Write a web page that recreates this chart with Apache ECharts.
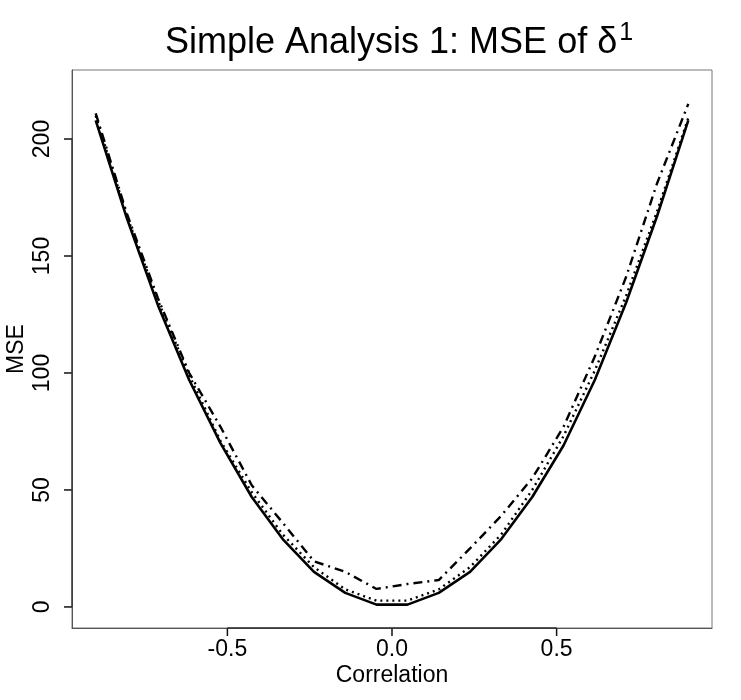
<!DOCTYPE html>
<html>
<head>
<meta charset="utf-8">
<script src="https://cdn.jsdelivr.net/npm/echarts@6/dist/echarts.min.js"></script>
<style>
html,body{margin:0;padding:0;background:#fff;}
#chart{width:741px;height:700px;}
</style>
</head>
<body>
<div id="chart"></div>
<script>
// Correlation grid (x values)
const correlation = [-0.900, -0.805, -0.711, -0.616, -0.521, -0.426, -0.332, -0.237, -0.142, -0.047,
                      0.047,  0.142,  0.237,  0.332,  0.426,  0.521,  0.616,  0.711,  0.805,  0.900];
// MSE series
const mseSolid   = [208, 166, 129, 97, 70, 47, 29, 15, 6, 1.0, 1.0, 6, 15, 29, 47, 69, 97, 130, 167, 208];
const mseDotted  = [210, 167, 131, 99, 71, 49, 31, 17, 7.5, 2.7, 2.7, 7.5, 17, 31, 50, 73, 101, 133, 169, 209];
const mseDashDot = [211, 168, 132, 100, 77, 52, 36, 19.5, 15, 7.7, 9.8, 11.5, 25, 39, 55, 77, 107, 141, 181, 215];
// Tick labels
const xTicks = [-0.5, 0, 0.5];
const xTickLabels = ['-0.5', '0.0', '0.5'];
const yTicks = [0, 50, 100, 150, 200];

const pairs = arr => correlation.map((x, i) => [x, arr[i]]);
const FONT = 'Liberation Sans, Arial, Helvetica, sans-serif';
const TICK_LEN = 8;
const X_MIN = -0.972, X_MAX = 0.972, Y_MIN = -9, Y_MAX = 229.5;

const chart = echarts.init(document.getElementById('chart'), null, {renderer: 'canvas'});
chart.setOption({
  animation: false,
  backgroundColor: '#fff',
  title: {
    text: '{m|Simple Analysis 1: MSE of δ}{s|1}',
    left: 160,
    top: 16,
    textStyle: {
      fontWeight: 'normal',
      rich: {
        m: {fontSize: 36, fontFamily: FONT, fontWeight: 'normal', color: '#000', lineHeight: 44},
        s: {fontSize: 25, fontFamily: FONT, fontWeight: 'normal', color: '#000', verticalAlign: 'top', lineHeight: 26, padding: [0, 0, 0, 2]}
      }
    }
  },
  grid: {
    left: 72, right: 29, top: 70, bottom: 72,
    outerBoundsMode: 'none',
    show: true, borderColor: '#777', borderWidth: 1, backgroundColor: 'transparent'
  },
  xAxis: {
    type: 'value',
    position: 'bottom',
    min: X_MIN, max: X_MAX,
    name: 'Correlation',
    nameLocation: 'middle',
    nameGap: 36,
    nameMoveOverlap: false,
    nameTextStyle: {fontSize: 23, fontFamily: FONT, color: '#000'},
    axisLine: {show: true, onZero: false, lineStyle: {color: '#555', width: 1}},
    axisTick: {show: false},
    axisLabel: {
      fontSize: 23, fontFamily: FONT, color: '#000', margin: 10,
      customValues: xTicks,
      formatter: v => xTickLabels[xTicks.indexOf(Math.round(v * 10) / 10)] ?? ''
    },
    splitLine: {show: false}
  },
  yAxis: {
    type: 'value',
    position: 'left',
    min: Y_MIN, max: Y_MAX,
    name: 'MSE',
    nameLocation: 'middle',
    nameGap: 44,
    nameRotate: 90,
    nameMoveOverlap: false,
    nameTextStyle: {fontSize: 23, fontFamily: FONT, color: '#000'},
    axisLine: {show: true, onZero: false, lineStyle: {color: '#555', width: 1}},
    axisTick: {show: false},
    axisLabel: {
      fontSize: 23, fontFamily: FONT, color: '#000', margin: 18, rotate: 90,
      customValues: yTicks
    },
    splitLine: {show: false}
  },
  series: [
    {type: 'line', data: pairs(mseSolid), showSymbol: false, symbol: 'none',
     lineStyle: {color: '#000', width: 2.6, type: 'solid'}},
    {type: 'line', data: pairs(mseDotted), showSymbol: false, symbol: 'none',
     lineStyle: {color: '#000', width: 2.4, type: [2, 4]}},
    {type: 'line', data: pairs(mseDashDot), showSymbol: false, symbol: 'none',
     lineStyle: {color: '#000', width: 2.4, type: [9, 5, 2, 5]}}
  ]
});

// Tick marks placed through the chart's own scales (convertToPixel)
function drawTicks() {
  const els = [];
  const style = {stroke: '#111', lineWidth: 1.5};
  yTicks.forEach(v => {
    const p = chart.convertToPixel({gridIndex: 0}, [X_MIN, v]);
    els.push({type: 'line', z: 100, silent: true,
              shape: {x1: p[0] - TICK_LEN, y1: p[1], x2: p[0], y2: p[1]}, style: style});
  });
  xTicks.forEach(v => {
    const p = chart.convertToPixel({gridIndex: 0}, [v, Y_MIN]);
    els.push({type: 'line', z: 100, silent: true,
              shape: {x1: p[0], y1: p[1], x2: p[0], y2: p[1] + TICK_LEN}, style: style});
  });
  // darker R-style axis segments between first and last ticks
  const ya = chart.convertToPixel({gridIndex: 0}, [X_MIN, yTicks[0]]);
  const yb = chart.convertToPixel({gridIndex: 0}, [X_MIN, yTicks[yTicks.length - 1]]);
  els.push({type: 'line', z: 100, silent: true,
            shape: {x1: ya[0], y1: ya[1], x2: yb[0], y2: yb[1]}, style: {stroke: '#333', lineWidth: 1.3}});
  const xa = chart.convertToPixel({gridIndex: 0}, [xTicks[0], Y_MIN]);
  const xb = chart.convertToPixel({gridIndex: 0}, [xTicks[xTicks.length - 1], Y_MIN]);
  els.push({type: 'line', z: 100, silent: true,
            shape: {x1: xa[0], y1: xa[1], x2: xb[0], y2: xb[1]}, style: {stroke: '#333', lineWidth: 1.3}});
  chart.setOption({graphic: {elements: els}});
}
drawTicks();
</script>
</body>
</html>
